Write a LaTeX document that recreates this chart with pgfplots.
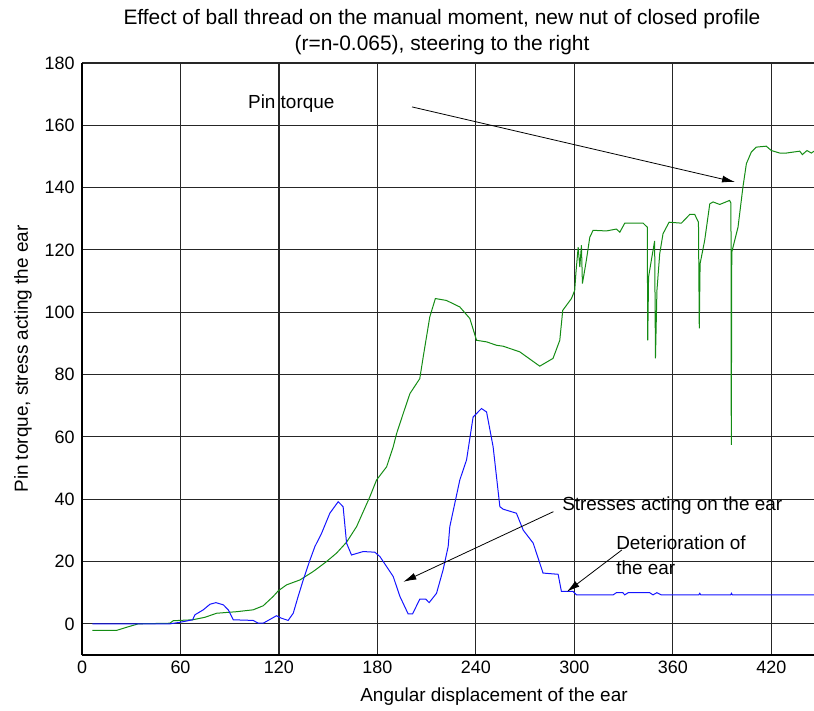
\documentclass[border=0pt]{standalone}
\usepackage{fontspec}
\setmainfont{Liberation Sans}
\usepackage{pgfplots}
\pgfplotsset{compat=1.18}
\usetikzlibrary{arrows.meta}
\definecolor{gcol}{RGB}{20,140,20}
\definecolor{bcol}{RGB}{20,20,255}
\begin{document}
\begin{tikzpicture}
\path[use as bounding box] (-82bp,-56bp) rectangle (732bp,655bp);
\begin{axis}[
  at={(0,0)}, anchor=south west,
  scale only axis, width=732bp, height=592bp,
  xmin=0, xmax=446, ymin=-10, ymax=180,
  xtick={0,60,...,420}, ytick={0,20,...,180},
  axis x line*=bottom, axis y line*=left,
  axis line style={black, line width=1.3bp},
  grid=major, major grid style={black!85, line width=1.1bp},
  major tick length=0pt,
  /pgf/number format/assume math mode=true,
  ticklabel style={font=\fontsize{18}{20}\selectfont},
  xticklabel style={yshift=-2bp},
  yticklabel style={xshift=-4bp},
  clip=false,
]
\addplot[gcol, line width=1bp] coordinates {
(6.3,-2.1) (21.1,-2.1) (27.2,-1.1) (34.3,0) (53.6,0.2) (55.6,1) (67.4,1.3) (74.9,2.1) (82,3.4) (94.2,3.9) (104.3,4.5) (110.4,5.8) (116.5,8.8) (119.6,10.6) (124.6,12.5) (132.8,14.1) (140.9,16.8) (149,20) (155.1,22.7) (161.2,26.2) (167.3,31.2) (175.4,40.8) (179.5,46.2) (185.6,50.4) (189.6,56.8) (191.7,61.1) (195.7,67.5) (199.8,73.9) (205.8,78.7) (207.9,85.7) (211.9,98.5) (215.3,104.4) (222,103.8) (230.2,101.7) (236.3,98) (240.4,91) (246.5,90.5) (252.6,89.4) (256.6,89.1) (266.7,87.3) (278.9,82.7) (287,85.2) (291.1,91) (292.9,100.6) (298.2,104.4) (300.2,107) (300.9,112.4) (302.3,120.9) (303.3,114.5) (304.3,121.5) (304.9,109.2) (307.3,116.7) (309.4,124.1) (311.4,126.3) (319.5,126.1) (325.6,126.7) (327.7,125.7) (330.7,128.6) (341.9,128.6) (344.4,127.3) (344.7,91) (345.2,111.3) (346.9,116.7) (348.9,122.9) (349.4,85.2) (350.3,107) (352,118.8) (354,125.2) (357.7,128.9) (365.2,128.6) (370.3,131.4) (373.3,131.4) (375.6,128.9) (376.1,94.8) (376.6,115.6) (379.4,123.1) (382.5,134.8) (384.5,135.4) (388.6,134.6) (394.6,135.9) (395.4,135) (395.6,57.4) (395.9,119.3) (399.7,127.3) (402.7,140.2) (404.8,147.7) (407.8,151.4) (410.8,153) (416.9,153.3) (420,151.9) (425.1,151.1) (429.2,151.1) (433.2,151.4) (437.3,151.7) (438.9,150.6) (441.7,151.9) (444.4,151.1) (446,151.7)
};
\addplot[bcol, line width=1bp] coordinates {
(6.3,0) (53.6,0) (59.7,0.5) (67.4,1.3) (68.8,2.9) (73.9,4.5) (78,6.3) (81.6,6.8) (86.1,6.1) (89.1,4.5) (92.2,1.3) (104.3,1.1) (107.4,0.2) (110.4,0.2) (118.5,2.6) (121.6,1.8) (125.6,1.1) (128.7,3.4) (131.7,8.8) (134.8,14.1) (138.9,20.5) (141.9,24.8) (146,29.1) (151,35.5) (156.1,39.2) (159.1,37.6) (161.2,25.9) (164.2,22.1) (171.3,23.2) (178.4,23) (181.5,21.6) (189.6,15.2) (193.7,8.8) (198.7,3.2) (201.4,3.2) (205.8,7.9) (209.5,7.9) (211.5,6.8) (216,9.8) (220,17.3) (223.1,24.8) (224.1,31.2) (230.2,46.2) (234.3,52.6) (238.3,66.4) (243.4,69.1) (246.5,68) (250.5,56.8) (254.6,37.6) (256.6,36.8) (264.7,35.5) (268.8,30.1) (274.9,25.9) (280.9,16.3) (290.1,15.9) (292.1,10.4) (299.2,10.4) (301.3,9.3) (323.6,9.3) (325.6,10) (329.5,10) (330.7,9.3) (332.8,10) (345.9,10) (347.9,9.3) (350.3,10) (352.9,9.3) (375.8,9.3) (376.4,9.8) (377,9.3) (395.2,9.3) (395.7,9.8) (396.2,9.3) (446,9.3)
};
% annotations
\node[anchor=west, inner sep=0pt, font=\fontsize{19}{22}\selectfont] at (axis cs:101.1,167) {Pin torque};
\draw[black, line width=0.8bp, -{Latex[length=13bp,width=7bp]}] (axis cs:201.1,165.9) -- (axis cs:397.9,141.8);
\node[anchor=west, inner sep=0pt, font=\fontsize{19}{22}\selectfont] at (axis cs:292.5,38.1) {Stresses acting on the ear};
\draw[black, line width=0.8bp, -{Latex[length=13bp,width=7bp]}] (axis cs:287.2,36) -- (axis cs:195.8,13.5);
\node[anchor=west, inner sep=0pt, font=\fontsize{19}{22}\selectfont] at (axis cs:325.4,25.9) {Deterioration of};
\node[anchor=west, inner sep=0pt, font=\fontsize{19}{22}\selectfont] at (axis cs:325.4,17.9) {the ear};
\draw[black, line width=0.8bp, -{Latex[length=13bp,width=7bp]}] (axis cs:328.9,23.7) -- (axis cs:295.4,10.3);
\end{axis}
\node[font=\fontsize{21}{24}\selectfont] at (360bp,636bp) {Effect of ball thread on the manual moment, new nut of closed profile};
\node[font=\fontsize{21}{24}\selectfont] at (360bp,610bp) {(r=n-0.065), steering to the right};
\node[anchor=base, font=\fontsize{19}{22}\selectfont] at (412bp,-46.7bp) {Angular displacement of the ear};
\node[rotate=90, font=\fontsize{19}{22}\selectfont] at (-59bp,296bp) {Pin torque, stress acting the ear};
\end{tikzpicture}
\end{document}
